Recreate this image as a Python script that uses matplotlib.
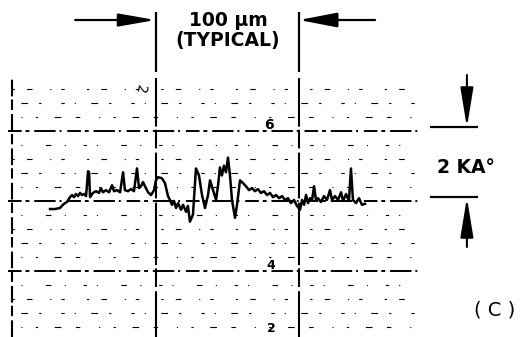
import matplotlib
matplotlib.use("Agg")
import matplotlib.pyplot as plt

# Surface profile trace: lateral position (µm) and height (Å) about the mean line
profile_x_um = [26.5, 30.0, 33.4, 36.2, 38.3, 40.4, 41.8, 43.2, 44.6, 46.0, 47.4, 48.8,
                50.2, 51.6, 53.0, 53.7, 54.4, 56.4, 58.5, 60.6, 62.0, 63.4, 65.5, 67.6,
                69.7, 71.1, 73.2, 75.3, 77.4, 78.7, 80.8, 82.9, 85.0, 87.1, 88.5, 89.9,
                91.3, 92.7, 94.8, 96.9, 99.0, 100.3, 101.7, 104.5, 106.6, 108.7, 110.1,
                111.5, 112.9, 114.3, 115.7, 117.8, 119.2, 121.3, 122.6, 124.0, 126.1,
                128.2, 130.3, 132.4, 134.5, 136.6, 138.0, 140.1, 142.2, 143.6, 144.9,
                146.3, 147.7, 149.1, 150.5, 151.9, 153.3, 155.4, 156.8, 158.9, 161.0,
                163.1, 165.2, 167.2, 169.3, 171.4, 173.5, 175.6, 177.7, 179.8, 181.9,
                184.0, 186.1, 188.2, 190.2, 192.3, 194.4, 196.5, 198.6, 200.7, 202.1,
                203.5, 204.9, 206.3, 207.7, 209.1, 210.5, 211.8, 213.2, 215.3, 217.4,
                219.5, 221.6, 223.0, 225.1, 227.2, 229.3, 230.7, 232.8, 234.8, 236.2,
                237.6, 239.7, 241.8, 243.9, 246.0]
profile_height_A = [-230, -230, -200, -80, -30, 110, 170, 110, 200, 140, 230, 170,
                    200, 140, 850, 820, 110, 230, 280, 230, 370, 250, 310, 250,
                    450, 280, 310, 250, 820, 310, 280, 340, 280, 930, 370, 420,
                    540, 420, 250, 170, 310, 590, 680, 650, 510, 140, 30,
                    -110, 0, -200, -60, -250, -110, -310, -140, -590, -390,
                    930, 730, 170, -200, 170, 590, 310, 30, 450, 960,
                    730, 1010, 820, 1240, 730, 30, -480, -110, 590, 510,
                    420, 310, 370, 280, 340, 230, 280, 170, 230, 110,
                    170, 80, 140, 30, 80, -60, 30, -140, -250, 30,
                    -110, 170, -60, 80, 30, 420, 30, 80, -30, 140,
                    30, 310, 30, 140, 30, 250, 0, 200, 0, 930,
                    30, -60, 80, -110, -80]

# Chart paper grid
major_levels_A = [2000, 0, -2000]
minor_levels_A = [3200, 2800, 2400, 1600, 1200, 800, 400, -400, -800, -1200,
                  -1600, -2400, -2800, -3200, -3600]
vertical_grid_um = [0, 100, 200]
paper_labels = ["6", "4", "2"]
paper_label_levels_A = [2170, -1830, -3650]

# Dimension annotations
span_um = (100, 200)
span_label = "100 µm"
span_note = "(TYPICAL)"
step_A = (100, 2100)
step_label = "2 KA°"
panel_label = "( C )"

fig = plt.figure(figsize=(5.2, 3.37), dpi=100)
ax = fig.add_axes([0, 0, 1, 1])
ax.set_xlim(-8.36, 354.0)
ax.set_ylim(-3886, 5743)
ax.axis("off")

paper_top = 3514
paper_right = 286

# minor ruling: sparse broken dashes
minor_patterns = [(0, (2, 11, 5, 16, 1, 9, 3, 20)), (7, (1, 14, 6, 10, 2, 18, 3, 9)),
                  (13, (4, 17, 1, 12, 2, 15, 6, 13)), (4, (3, 9, 1, 21, 5, 12, 1, 16))]
for i, lev in enumerate(minor_levels_A):
    ax.plot([0, paper_right], [lev, lev], color="black", lw=0.8,
            linestyle=minor_patterns[i % 4], solid_capstyle="butt", zorder=1)

# major ruling
for lev in major_levels_A:
    ax.plot([-3, paper_right], [lev, lev], color="black", lw=1.4,
            linestyle=(0, (7, 2, 2, 2.5, 11, 2, 1, 3)), zorder=2)

# vertical ruling
ax.plot([0, 0], [-3886, paper_top], color="black", lw=1.5,
        linestyle=(0, (8, 2, 5, 1.5)), zorder=2)
for xv in vertical_grid_um[1:]:
    ax.plot([xv, xv], [-3886, paper_top], color="black", lw=1.5,
            linestyle=(0, (22, 2, 9, 1.5, 30, 2)), zorder=2)

# paper scale numerals
ax.text(179, paper_label_levels_A[0], paper_labels[0], fontsize=10, fontweight="bold",
        ha="center", va="center", zorder=3)
ax.text(180.5, paper_label_levels_A[1], paper_labels[1], fontsize=9, fontweight="bold",
        ha="center", va="center", zorder=3)
ax.text(181, paper_label_levels_A[2], paper_labels[2], fontsize=9, fontweight="bold",
        ha="center", va="center", zorder=3)
ax.text(89, 3200, "2", fontsize=10, rotation=-100, ha="center", va="center", zorder=3)

# profile trace
ax.plot(profile_x_um, profile_height_A, color="black", lw=1.8,
        solid_joinstyle="round", zorder=4)

# lateral dimension
for xv in span_um:
    ax.plot([xv, xv], [3686, 5400], color="black", lw=1.6, solid_capstyle="butt")
ax.annotate("", xy=(span_um[0], 5171), xytext=(44, 5171),
            arrowprops=dict(arrowstyle="-|>,head_length=1.25,head_width=0.22",
                            mutation_scale=18, lw=1.6, color="black",
                            shrinkA=0, shrinkB=0))
ax.annotate("", xy=(span_um[1], 5171), xytext=(253, 5171),
            arrowprops=dict(arrowstyle="-|>,head_length=1.3,head_width=0.25",
                            mutation_scale=18, lw=1.6, color="black",
                            shrinkA=0, shrinkB=0))
ax.text(151, 5143, span_label, fontsize=13.5, fontweight="bold", ha="center", va="center")
ax.text(150, 4600, span_note, fontsize=13.5, fontweight="bold", ha="center", va="center")

# height dimension
for lev in step_A:
    ax.plot([291, 325], [lev, lev], color="black", lw=1.6, solid_capstyle="butt")
ax.annotate("", xy=(317, step_A[1]), xytext=(317, 3600),
            arrowprops=dict(arrowstyle="-|>,head_length=1.35,head_width=0.22",
                            mutation_scale=18, lw=1.5, color="black",
                            shrinkA=0, shrinkB=0))
ax.annotate("", xy=(317, step_A[0]), xytext=(317, -1314),
            arrowprops=dict(arrowstyle="-|>,head_length=1.35,head_width=0.22",
                            mutation_scale=18, lw=1.5, color="black",
                            shrinkA=0, shrinkB=0))
ax.text(316, 971, step_label, fontsize=13.5, fontweight="bold", ha="center", va="center")

ax.text(336.5, -3114, panel_label, fontsize=14, ha="center", va="center")

fig.savefig("out.png", dpi=100, facecolor="white")
